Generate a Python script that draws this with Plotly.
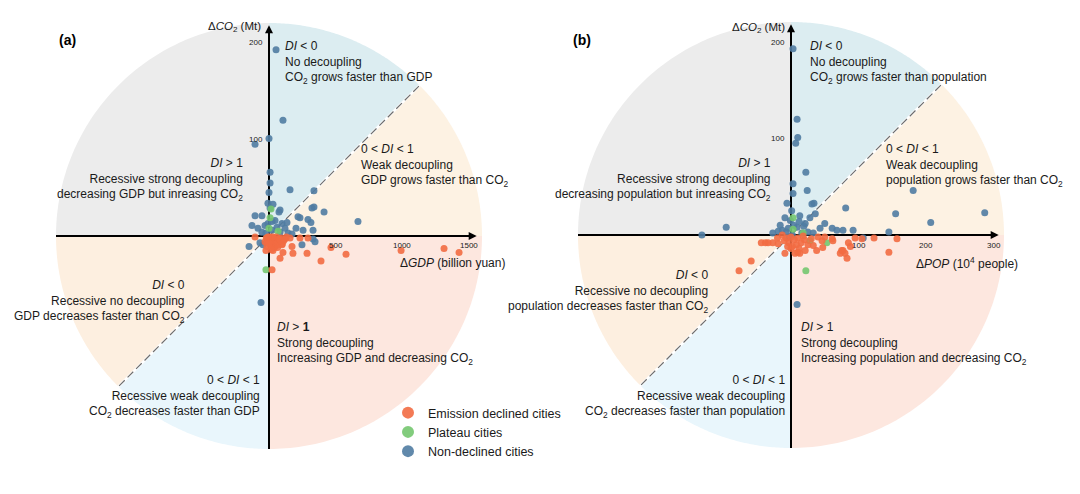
import numpy as np
import plotly.graph_objects as go

# ---- panel (a): x = ΔGDP (billion yuan), y = ΔCO2 (Mt) ----
a_declined_x = [-105, 158, 233, 293, 173, 98, 105, 180, 286, 83, 30, 391, 466, 579, 993, 1316, 1429,
                23, -23, 45, -15, -30, -20, 0, 15, 30, 45, 60, 75, 90, 110, -10, 10, 25, 50, 70,
                5, 35, 55, 20, -5, 40, 80, 100, 120, 12, 28, 65, 0, 18, -8, 130]
a_declined_y = [-1, -2, -2, -2, -11, -9, -17, -18, -18, -23, -15, -26, -12, -19, -15, -13, -17,
                -35, -15, -7, -11, -6, -2, -3, -5, -2, -4, -3, -6, -2, -5, -7, -9, -8, -10, -9,
                -1, -6, -1, -11, -4, -12, -3, -8, -3, -4, -1, -12, -8, -14, -1, -1]
a_plateau_x = [8, 15, 68, 0, -15, -23]
a_plateau_y = [19, 28, 5, 8, -2, -35]
a_non_x = [53, 105, 0, -105, 8, 8, 0, 158, 338, 30, 83, 338, 414, 669, 218, 293, 331, 256, -53, -105,
           -128, -83, 98, 120, 331, 248, -68, -150, 23, 60, 75, 8, -8, -60, -45, 346, -30, -53, 45,
           83, 23, -8, 143, 173, -23, 38, 135, 233, 323, 315, 203]
a_non_y = [193, 120, 101, 95, 66, 55, 45, 48, 47, 33, 27, 30, 25, 15, 20, 17, 6, 6, 21, 21,
           11, 8, 13, 8, -3, -9, -7, -11, 6, 9, 25, 29, 34, -69, -9, -6, 11, 4, 16,
           4, 15, 13, 3, 2, 3, -4, 14, 19, 29, 14, 8]
a_xticks = [500, 1000, 1500]
a_yticks = [100, 200]

# ---- panel (b): x = ΔPOP (10^4 people), y = ΔCO2 (Mt) ----
b_declined_x = [-44, -34, -59, -77, -19, 38, 61, 75, 80, 83, 95, 145, 157, 10, 6, -38, -27, 13, -9,
                21, 33, 46, 47, 62, 73, 77, -13, -7, 0, 5, 10, 15, -3, 2, 8, 20, 12, -10, 25, 0,
                -5, 30, 40, -20, 18, 50, 105, 85, 88, 123]
b_declined_y = [-8, -8, -27, -37, -9, -16, -4, -16, -19, -24, -3, -18, -4, -18, -19, -8, -8, -19, -19,
                -16, -11, -6, -13, -6, -19, -16, 0, -3, -2, -5, -3, -8, -8, -12, -10, -5, -14, -6, -10, -14,
                -12, -4, -2, -3, -1, -2, -4, -8, -12, -3]
b_plateau_x = [3, 3, 18, 53, 22, 28]
b_plateau_y = [18, 6, 2, -8, -37, -6]
b_non_x = [3, 9, 10, 7, 22, 3, 24, 3, 34, 181, 81, 155, 287, 207, 77, 145, 107, -96, -132, -6,
           31, 13, 28, 36, 21, 43, 61, 68, -27, -16, -9, -1, 9, 16, 25, 33, 92, -13, -4, 9,
           4, 12, -7, 19, 1, -19, 50, -3, 2]
b_non_y = [193, 120, 101, 95, 65, 53, 46, 43, 33, 46, 28, 22, 23, 13, 5, 3, -3, 8, 0, 33,
           32, 20, 18, 22, 12, 7, 7, 5, 2, 10, 18, 15, 8, 2, 3, 2, 5, 5, 7, -72,
           10, 14, 3, 9, 25, 4, 12, -2, 0]
b_xticks = [100, 200, 300]
b_yticks = [100, 200]

# page has an 8px body margin, so the figure is drawn 8px in from the window edge
OFF = 8
W, H = 1080 - OFF, 494 - OFF
FONT = "Liberation Sans, Arial, sans-serif"
TEXT = "#1a1a1a"

COLORS = {
    "declined": "#f26b43",
    "plateau": "#74c66f",
    "non": "#507ca2",
}

# (start angle, end angle, fill) in screen degrees
WEDGES = [
    (90, 180, "#ececec"),
    (45, 90, "#dcedf1"),
    (0, 45, "#fdf2e3"),
    (-90, 0, "#fde7df"),
    (180, 225, "#fdefe0"),
    (225, 270, "#e9f6fc"),
]

R_PX = 213     # circle radius in pixels
PAD_PX = 4     # extra room so the circle edge is not clipped


def px_x(x):
    return (x - OFF) / W


def px_y(y):
    return 1 - (y - OFF) / H


def sector_path(rx, ry, a0, a1):
    t = np.radians(np.linspace(a0, a1, 80))
    pts = " ".join(f"L{rx * np.cos(v):.3f},{ry * np.sin(v):.3f}" for v in t)
    return f"M0,0 {pts} Z"


def region_labels(texts, spots):
    out = []
    for txt, (x, y, side) in zip(texts, spots):
        out.append(dict(
            text=txt, xref="paper", yref="paper", x=px_x(x), y=px_y(y),
            xanchor=side, yanchor="middle", align=side, showarrow=False,
            font=dict(family=FONT, size=12, color=TEXT),
        ))
    return out


panels = [
    dict(
        xa="x", ya="y", cx=269, cy=236, sx=0.133, sy=0.965,
        dec=(a_declined_x, a_declined_y), pla=(a_plateau_x, a_plateau_y), non=(a_non_x, a_non_y),
        xticks=a_xticks, yticks=a_yticks, tag="(a)", tag_pos=(57, 40),
        xtitle="Δ<i>GDP</i> (billion yuan)", xtitle_pos=(398, 263),
        ytitle_pos=(263, 27),
        texts=[
            "<i>DI</i> &lt; 0<br>No decoupling<br>CO<sub>2</sub> grows faster than GDP",
            "0 &lt; <i>DI</i> &lt; 1<br>Weak decoupling<br>GDP grows faster than CO<sub>2</sub>",
            "<i>DI</i> &gt; 1<br>Recessive strong decoupling<br>decreasing GDP but inreasing CO<sub>2</sub>",
            "<i>DI</i> &lt; 0<br>Recessive no decoupling<br>GDP decreases faster than CO<sub>2</sub>",
            "<i>DI</i> &gt; <b>1</b><br>Strong decoupling<br>Increasing GDP and decreasing CO<sub>2</sub>",
            "0 &lt; <i>DI</i> &lt; 1<br>Recessive weak decoupling<br>CO<sub>2</sub> decreases faster than GDP",
        ],
        spots=[(283, 63, "left"), (359, 165, "left"), (245, 179, "right"),
               (187, 301, "right"), (275, 343, "left"), (262, 396, "right")],
        legend=True,
    ),
    dict(
        xa="x2", ya="y2", cx=791, cy=235, sx=0.675, sy=0.965,
        dec=(b_declined_x, b_declined_y), pla=(b_plateau_x, b_plateau_y), non=(b_non_x, b_non_y),
        xticks=b_xticks, yticks=b_yticks, tag="(b)", tag_pos=(571, 40),
        xtitle="Δ<i>POP</i> (10<sup>4</sup> people)", xtitle_pos=(914, 263),
        ytitle_pos=(787, 28),
        texts=[
            "<i>DI</i> &lt; 0<br>No decoupling<br>CO<sub>2</sub> grows faster than population",
            "0 &lt; <i>DI</i> &lt; 1<br>Weak decoupling<br>population grows faster than CO<sub>2</sub>",
            "<i>DI</i> &gt; 1<br>Recessive strong decoupling<br>decreasing population but inreasing CO<sub>2</sub>",
            "<i>DI</i> &lt; 0<br>Recessive no decoupling<br>population decreases faster than CO<sub>2</sub>",
            "<i>DI</i> &gt; 1<br>Strong decoupling<br>Increasing population and decreasing CO<sub>2</sub>",
            "0 &lt; <i>DI</i> &lt; 1<br>Recessive weak decoupling<br>CO<sub>2</sub> decreases faster than population",
        ],
        spots=[(808, 63, "left"), (884, 165, "left"), (773, 179, "right"),
               (710, 291, "right"), (799, 343, "left"), (787, 396, "right")],
        legend=False,
    ),
]

fig = go.Figure()
shapes = []
annotations = []
layout_axes = {}

for i, p in enumerate(panels):
    rx = R_PX / p["sx"]
    ry = R_PX / p["sy"]
    half = R_PX + PAD_PX
    xname = "xaxis" if i == 0 else "xaxis2"
    yname = "yaxis" if i == 0 else "yaxis2"
    layout_axes[xname] = dict(
        domain=[px_x(p["cx"] - half), px_x(p["cx"] + half)],
        range=[-half / p["sx"], half / p["sx"]],
        visible=False, fixedrange=True, anchor=p["ya"],
    )
    layout_axes[yname] = dict(
        domain=[px_y(p["cy"] + half), px_y(p["cy"] - half)],
        range=[-half / p["sy"], half / p["sy"]],
        visible=False, fixedrange=True, anchor=p["xa"],
    )

    # coloured sectors
    for a0, a1, col in WEDGES:
        shapes.append(dict(type="path", xref=p["xa"], yref=p["ya"], layer="below",
                           path=sector_path(rx, ry, a0, a1), fillcolor=col,
                           line=dict(width=0)))

    # DI = 1 diagonals: white gap with grey dashes
    c45 = np.cos(np.radians(45))
    for sgn in (1, -1):
        for lc, lw, dash in (("white", 2.5, "solid"), ("#6e6e6e", 1.2, "8px,4px")):
            shapes.append(dict(type="line", xref=p["xa"], yref=p["ya"], layer="below",
                               x0=0, y0=0, x1=sgn * rx * c45, y1=sgn * ry * c45,
                               line=dict(color=lc, width=lw, dash=dash)))

    # axes lines
    shapes.append(dict(type="line", xref=p["xa"], yref=p["ya"], layer="below",
                       x0=-rx, y0=0, x1=rx * 0.95, y1=0, line=dict(color="black", width=2)))
    shapes.append(dict(type="line", xref=p["xa"], yref=p["ya"], layer="below",
                       x0=0, y0=-ry, x1=0, y1=ry * 0.96, line=dict(color="black", width=2)))
    annotations.append(dict(x=rx * 0.975, y=0, ax=rx * 0.92, ay=0, xref=p["xa"], yref=p["ya"],
                            axref=p["xa"], ayref=p["ya"], text="", showarrow=True,
                            arrowhead=2, arrowsize=1, arrowwidth=1.6, arrowcolor="black"))
    annotations.append(dict(x=0, y=ry * 0.99, ax=0, ay=ry * 0.93, xref=p["xa"], yref=p["ya"],
                            axref=p["xa"], ayref=p["ya"], text="", showarrow=True,
                            arrowhead=2, arrowsize=1, arrowwidth=1.6, arrowcolor="black"))

    # tick labels
    for v in p["xticks"]:
        annotations.append(dict(x=v, y=0, xref=p["xa"], yref=p["ya"], text=str(v),
                                showarrow=False, yshift=-10,
                                font=dict(family=FONT, size=8, color="#222")))
    for v in p["yticks"]:
        annotations.append(dict(x=0, y=v, xref=p["xa"], yref=p["ya"], text=str(v),
                                showarrow=False, xanchor="right", xshift=-4,
                                font=dict(family=FONT, size=8, color="#222")))

    # axis titles and panel tag
    annotations.append(dict(text=p["xtitle"], xref="paper", yref="paper",
                            x=px_x(p["xtitle_pos"][0]), y=px_y(p["xtitle_pos"][1]),
                            xanchor="left", yanchor="middle", showarrow=False,
                            font=dict(family=FONT, size=12, color=TEXT)))
    annotations.append(dict(text="Δ<i>CO</i><sub>2</sub> (Mt)", xref="paper", yref="paper",
                            x=px_x(p["ytitle_pos"][0]), y=px_y(p["ytitle_pos"][1]),
                            xanchor="right", yanchor="middle", showarrow=False,
                            font=dict(family=FONT, size=11.5, color=TEXT)))
    annotations.append(dict(text=f"<b>{p['tag']}</b>", xref="paper", yref="paper",
                            x=px_x(p["tag_pos"][0]), y=px_y(p["tag_pos"][1]),
                            xanchor="left", yanchor="middle", showarrow=False,
                            font=dict(family=FONT, size=14, color="black")))

    annotations += region_labels(p["texts"], p["spots"])

    # scatter points
    for key, name, ckey in (("non", "Non-declined cities", "non"),
                            ("pla", "Plateau cities", "plateau"),
                            ("dec", "Emission declined cities", "declined")):
        xs, ys = p[key]
        fig.add_trace(go.Scatter(
            x=xs, y=ys, mode="markers", name=name, xaxis=p["xa"], yaxis=p["ya"],
            marker=dict(size=7, color=COLORS[ckey], opacity=0.9, line=dict(width=0)),
            showlegend=p["legend"], cliponaxis=False,
        ))

fig.update_layout(
    width=W, height=H,
    margin=dict(l=0, r=0, t=0, b=0),
    paper_bgcolor="white", plot_bgcolor="rgba(0,0,0,0)",
    font=dict(family=FONT, color=TEXT),
    shapes=shapes, annotations=annotations,
    legend=dict(
        x=px_x(388), y=px_y(398), xanchor="left", yanchor="top",
        traceorder="reversed", itemsizing="constant", bgcolor="rgba(0,0,0,0)",
        font=dict(family=FONT, size=12.5, color=TEXT),
    ),
    **layout_axes,
)

fig.write_html("out.html")
